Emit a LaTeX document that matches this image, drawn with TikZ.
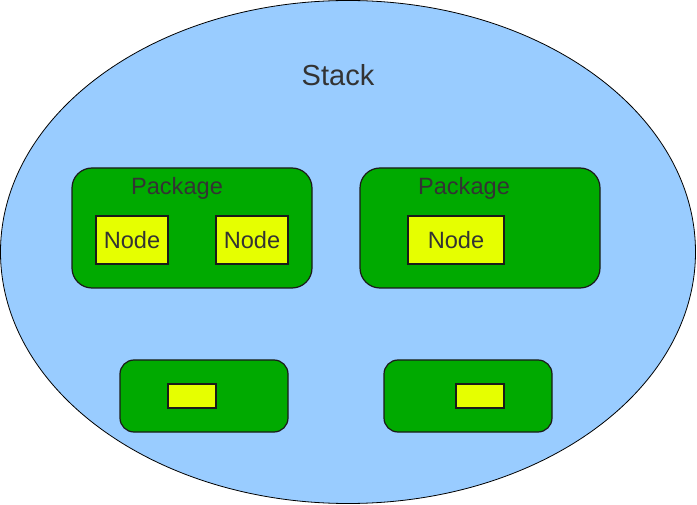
\documentclass[tikz,border=0pt]{standalone}
\usepackage{fontspec}
\setmainfont{Liberation Sans}
\usetikzlibrary{shapes.geometric}
\definecolor{stackblue}{HTML}{99CCFF}
\definecolor{pkggreen}{HTML}{00AA00}
\definecolor{nodeyellow}{HTML}{E6FF00}
\definecolor{txtgray}{HTML}{333333}
\definecolor{edge}{HTML}{1A1A1A}
\begin{document}
\begin{tikzpicture}[x=1pt,y=-1pt,
  pkg/.style={draw=edge,fill=pkggreen,line width=1.2pt,rounded corners=20pt},
  smallpkg/.style={draw=edge,fill=pkggreen,line width=1.2pt,rounded corners=14pt},
  nodebox/.style={draw=edge,fill=nodeyellow,line width=1.2pt},
  lbl/.style={text=txtgray,font=\fontsize{23.6}{26}\selectfont,inner sep=0pt},
  biglbl/.style={text=txtgray,font=\fontsize{29}{32}\selectfont,inner sep=0pt}]
\useasboundingbox (0,0) rectangle (697,505);
\node[ellipse,draw=black,fill=stackblue,line width=0.8pt,minimum width=695pt,minimum height=503pt,inner sep=0pt] (stack) at (348,252) {};
\node[biglbl] (stacklbl) at (338,75) {Stack};
% packages
\draw[pkg] (72,168) rectangle (312,288);
\node[lbl] (pkgA) at (177,188.5) {Package};
\draw[pkg] (360,168) rectangle (600,288);
\node[lbl] (pkgB) at (464,188.5) {Package};
% nodes
\draw[nodebox] (96,216) rectangle (168,264);
\node[lbl] (n1) at (132,240) {Node};
\draw[nodebox] (216,216) rectangle (288,264);
\node[lbl] (n2) at (252,240) {Node};
\draw[nodebox] (408,216) rectangle (504,264);
\node[lbl] (n3) at (456,240) {Node};
% bottom packages
\draw[smallpkg] (120,360) rectangle (288,432);
\draw[nodebox] (168,384) rectangle (216,408);
\draw[smallpkg] (384,360) rectangle (552,432);
\draw[nodebox] (456,384) rectangle (504,408);
\end{tikzpicture}
\end{document}
